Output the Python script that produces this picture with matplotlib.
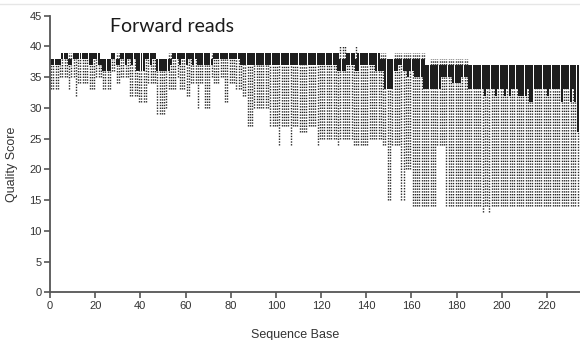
import numpy as np
import matplotlib
matplotlib.use("Agg")
import matplotlib.pyplot as plt
from matplotlib.lines import Line2D

# per-base quality summary (bases 1..234)
# top and bottom of the filled box
box_top = [
    38, 38, 38, 38, 38, 39, 39, 39, 38, 38,
    39, 39, 39, 39, 39, 39, 39, 39, 39, 39,
    39, 39, 38, 38, 38, 38, 38, 39, 39, 38,
    38, 39, 39, 39, 39, 39, 39, 39, 39, 39,
    39, 39, 39, 39, 39, 39, 39, 38, 38, 38,
    38, 38, 38, 38, 39, 39, 39, 39, 39, 39,
    39, 39, 39, 39, 39, 39, 39, 39, 39, 39,
    39, 38, 39, 39, 39, 39, 39, 39, 39, 39,
    39, 39, 39, 39, 39, 39, 39, 39, 39, 39,
    39, 39, 39, 39, 39, 39, 39, 39, 39, 39,
    39, 39, 39, 39, 39, 39, 39, 39, 39, 39,
    39, 39, 39, 39, 39, 39, 39, 39, 39, 39,
    39, 39, 39, 39, 39, 39, 39, 39, 38, 38,
    38, 39, 39, 39, 39, 38, 39, 39, 39, 39,
    39, 39, 39, 39, 39, 39, 38, 38, 38, 38,
    38, 38, 38, 38, 38, 38, 38, 38, 38, 38,
    38, 38, 38, 38, 38, 38, 37, 37, 37, 37,
    37, 37, 37, 37, 37, 37, 37, 37, 37, 37,
    37, 37, 37, 37, 37, 37, 37, 37, 37, 37,
    37, 37, 37, 37, 37, 37, 37, 37, 37, 37,
    37, 37, 37, 37, 37, 37, 37, 37, 37, 37,
    37, 37, 37, 37, 37, 37, 37, 37, 37, 37,
    37, 37, 37, 37, 37, 37, 37, 37, 37, 37,
    37, 37, 37, 37,
]
box_bottom = [
    37, 37, 37, 37, 37, 38, 38, 38, 37, 37,
    38, 38, 38, 38, 38, 38, 38, 37, 37, 38,
    38, 37, 37, 36, 36, 36, 36, 38, 38, 37,
    37, 38, 38, 37, 38, 38, 37, 38, 36, 36,
    36, 36, 38, 38, 37, 38, 38, 36, 36, 36,
    36, 36, 36, 37, 38, 38, 38, 37, 38, 38,
    37, 38, 38, 37, 38, 37, 37, 37, 37, 37,
    37, 37, 38, 38, 38, 38, 38, 38, 38, 38,
    38, 38, 38, 38, 37, 37, 37, 37, 37, 37,
    37, 37, 37, 37, 37, 37, 37, 37, 37, 37,
    37, 37, 37, 37, 37, 37, 37, 37, 37, 37,
    37, 37, 37, 37, 37, 37, 37, 37, 37, 37,
    37, 37, 37, 37, 37, 37, 37, 36, 36, 36,
    36, 37, 37, 37, 37, 36, 36, 37, 37, 37,
    37, 37, 37, 37, 36, 36, 36, 36, 33, 33,
    33, 33, 36, 36, 37, 37, 36, 36, 35, 36,
    36, 35, 35, 35, 35, 33, 33, 33, 33, 33,
    33, 33, 33, 35, 35, 35, 35, 35, 34, 34,
    34, 34, 35, 35, 35, 33, 33, 33, 33, 33,
    33, 33, 32, 33, 33, 33, 33, 32, 33, 33,
    33, 32, 33, 32, 33, 33, 33, 32, 32, 32,
    32, 33, 31, 31, 33, 33, 33, 33, 33, 33,
    32, 33, 33, 33, 33, 33, 31, 33, 33, 33,
    31, 33, 31, 26,
]
# lower whisker end
whisker_low = [
    33, 33, 33, 33, 35, 35, 35, 35, 33, 35,
    35, 32, 34, 34, 34, 34, 34, 33, 33, 33,
    35, 35, 35, 33, 33, 33, 33, 36, 36, 34,
    34, 35, 35, 35, 35, 32, 32, 32, 32, 31,
    31, 31, 31, 34, 34, 34, 34, 29, 29, 29,
    29, 30, 33, 33, 33, 33, 35, 33, 33, 33,
    32, 32, 34, 34, 34, 30, 34, 34, 30, 30,
    30, 35, 34, 34, 34, 35, 35, 31, 31, 34,
    34, 34, 33, 33, 33, 32, 32, 27, 27, 27,
    30, 30, 30, 30, 30, 30, 30, 27, 27, 27,
    27, 24, 27, 27, 27, 27, 24, 27, 27, 27,
    26, 26, 26, 26, 27, 27, 27, 27, 24, 25,
    25, 25, 25, 25, 25, 25, 25, 24, 25, 25,
    25, 25, 25, 25, 24, 24, 24, 24, 24, 24,
    24, 25, 25, 25, 25, 25, 25, 24, 24, 15,
    15, 24, 24, 24, 24, 15, 15, 20, 20, 20,
    14, 14, 14, 14, 14, 14, 14, 14, 14, 14,
    14, 24, 24, 24, 24, 14, 14, 14, 14, 14,
    14, 14, 14, 14, 14, 14, 14, 14, 14, 14,
    14, 13, 14, 14, 13, 14, 14, 14, 14, 14,
    14, 14, 14, 14, 14, 14, 14, 14, 14, 14,
    14, 14, 14, 14, 14, 14, 14, 14, 14, 14,
    14, 14, 14, 14, 14, 14, 14, 14, 14, 14,
    14, 14, 14, 14,
]
# bases whose upper whisker reaches above the box
upper_bases = [8, 9, 29, 30, 52, 53, 71, 128, 129, 130, 135, 146, 147, 148,
               152, 153, 154, 155, 156, 157, 158, 159, 160, 161, 162, 163, 164, 165,
               168, 169, 170, 171, 172, 173, 174, 175, 176, 177, 178, 179, 180,
               181, 182, 183, 184]
upper_top = [39, 39, 39, 39, 39, 39, 39, 40, 40, 40, 40, 39, 39, 39,
             39, 39, 39, 39, 39, 39, 39, 39, 39, 39, 39, 39, 39, 39,
             38, 38, 38, 38, 38, 38, 38, 38, 38, 38, 38, 38, 38,
             38, 38, 38, 38]

x_ticks = list(range(0, 221, 20))
y_ticks = list(range(0, 46, 5))

box_top = np.array(box_top)
box_bottom = np.array(box_bottom)
whisker_low = np.array(whisker_low)
pos = np.arange(len(box_top)) + 0.5

fig = plt.figure(figsize=(5.8, 3.4), dpi=100)
ax = fig.add_axes([50 / 580, 47.7 / 340, 530 / 580, 276.6 / 340])

# whiskers as dotted lines, boxes as filled bars on top
dot = (0, (1, 1))
ax.vlines(pos, whisker_low, box_bottom, colors="#2a2a2a",
          linewidth=1.0, linestyles=dot)
up = np.array(upper_bases)
ax.vlines(up + 0.5, box_top[up], upper_top, colors="#2a2a2a",
          linewidth=1.0, linestyles=dot)
ax.bar(pos, box_top - box_bottom, bottom=box_bottom, width=0.88,
       color="#1e1e1e", linewidth=0)

ax.set_xlim(0, 234.6)
ax.set_ylim(0, 45)
ax.set_xticks(x_ticks)
ax.set_yticks(y_ticks)

for side in ["top", "right"]:
    ax.spines[side].set_visible(False)
for side in ["left", "bottom"]:
    ax.spines[side].set_color("#555555")
    ax.spines[side].set_linewidth(1.3)
ax.tick_params(direction="out", length=4, width=1.2, color="#555555",
               labelcolor="#333333", labelsize=8, pad=2)
for lab in ax.get_xticklabels() + ax.get_yticklabels():
    lab.set_family("Liberation Sans")

ax.set_xlabel("Sequence Base", fontsize=9, color="#333333", family="Liberation Sans")
ax.set_ylabel("Quality Score", fontsize=9, color="#333333", family="Liberation Sans")
ax.xaxis.set_label_coords(0.462, -0.133)
ax.yaxis.set_label_coords(-0.06, 0.464)

ax.text(26.5, 42.3, "Forward reads", fontsize=14, family="Lato",
        color="#1a1a1a", va="baseline", ha="left")

fig.add_artist(Line2D([0, 1], [1 - 3.5 / 340] * 2, color="#e6e6e6", lw=1))

fig.savefig("out.png", dpi=100)
